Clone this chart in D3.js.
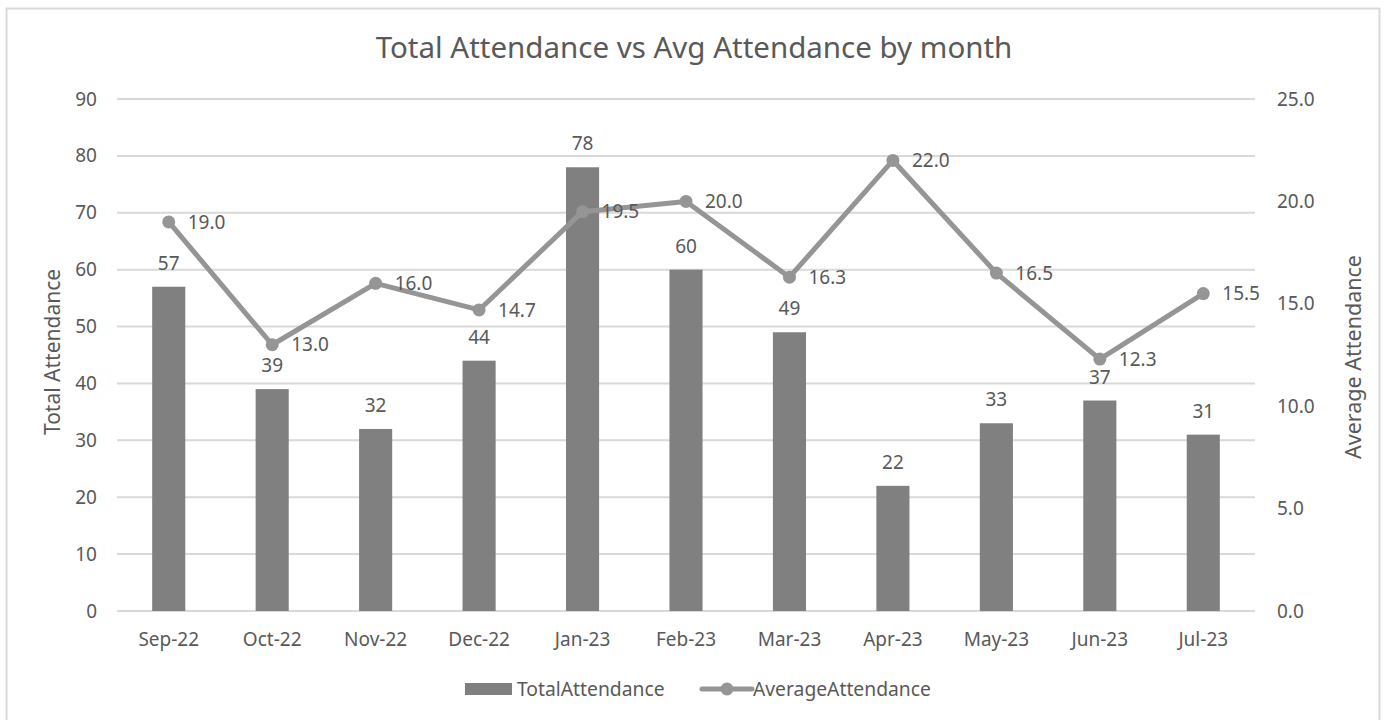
<!DOCTYPE html>
<html lang="en">
<head>
  <meta charset="UTF-8">
  <title>Total Attendance vs Avg Attendance by month</title>
  <script src="https://d3js.org/d3.v7.min.js"></script>
  <style>
    body {margin: 0; background: #fff;}
    text {font-family: "Noto Sans", "Open Sans", sans-serif; fill: #595959;}
    .grid line {stroke: #d9d9d9; stroke-width: 2;}
  </style>
</head>
<body>
<div id="chart"></div>
<script>
const months = ["Sep-22", "Oct-22", "Nov-22", "Dec-22", "Jan-23", "Feb-23", "Mar-23", "Apr-23", "May-23", "Jun-23", "Jul-23"];
const totalAttendance = [57, 39, 32, 44, 78, 60, 49, 22, 33, 37, 31];
const averageAttendance = [19.0, 13.0, 16.0, 14.7, 19.5, 20.0, 16.3, 22.0, 16.5, 12.3, 15.5];
const leftTicks = [0, 10, 20, 30, 40, 50, 60, 70, 80, 90];
const rightTicks = [0, 5, 10, 15, 20, 25];

const width = 1388, height = 720;
const plot = {left: 117, right: 1255, top: 99, bottom: 611};
const barColor = "#808080";
const lineColor = "#959595";

const svg = d3.select("#chart").append("svg")
  .attr("width", width)
  .attr("height", height);

// chart frame
svg.append("rect")
  .attr("x", 6.5).attr("y", 8.5)
  .attr("width", 1373).attr("height", 720)
  .attr("fill", "#fff")
  .attr("stroke", "#d9d9d9")
  .attr("stroke-width", 2);

const x = d3.scaleBand()
  .domain(months)
  .range([plot.left, plot.right])
  .paddingInner(0.68)
  .paddingOuter(0.34);

const yLeft = d3.scaleLinear().domain([0, 90]).range([plot.bottom, plot.top]);
const yRight = d3.scaleLinear().domain([0, 25]).range([plot.bottom, plot.top]);
const cx = d => x(d) + x.bandwidth() / 2;

// gridlines
svg.append("g").attr("class", "grid")
  .selectAll("line")
  .data(leftTicks)
  .join("line")
  .attr("x1", plot.left).attr("x2", plot.right)
  .attr("y1", d => yLeft(d)).attr("y2", d => yLeft(d));

// left axis
const leftAxis = svg.append("g")
  .attr("transform", `translate(${plot.left},0)`)
  .call(d3.axisLeft(yLeft).tickValues(leftTicks).tickSize(0).tickPadding(20));
leftAxis.select(".domain").remove();
leftAxis.selectAll("text").style("font-size", "19px").attr("fill", "#595959");

// right axis
const rightAxis = svg.append("g")
  .attr("transform", `translate(${plot.right},0)`)
  .call(d3.axisRight(yRight).tickValues(rightTicks).tickFormat(d3.format(".1f")).tickSize(0).tickPadding(22));
rightAxis.select(".domain").remove();
rightAxis.selectAll("text").style("font-size", "19px").attr("fill", "#595959");

// bottom axis
const bottomAxis = svg.append("g")
  .attr("transform", `translate(0,${plot.bottom})`)
  .call(d3.axisBottom(x).tickSize(0).tickPadding(22));
bottomAxis.select(".domain").remove();
bottomAxis.selectAll("text").style("font-size", "19px").attr("fill", "#595959");

// bars
svg.append("g")
  .selectAll("rect")
  .data(months)
  .join("rect")
  .attr("x", d => x(d))
  .attr("y", (d, i) => yLeft(totalAttendance[i]))
  .attr("width", x.bandwidth())
  .attr("height", (d, i) => yLeft(0) - yLeft(totalAttendance[i]))
  .attr("fill", barColor);

// bar labels
svg.append("g")
  .selectAll("text")
  .data(months)
  .join("text")
  .attr("x", d => cx(d))
  .attr("y", (d, i) => yLeft(totalAttendance[i]) - 17)
  .attr("text-anchor", "middle")
  .style("font-size", "19px")
  .text((d, i) => totalAttendance[i]);

// line
const line = d3.line()
  .x((d, i) => cx(months[i]))
  .y(d => yRight(d));

svg.append("path")
  .datum(averageAttendance)
  .attr("d", line)
  .attr("fill", "none")
  .attr("stroke", lineColor)
  .attr("stroke-width", 5)
  .attr("stroke-linejoin", "round")
  .attr("stroke-linecap", "round");

svg.append("g")
  .selectAll("circle")
  .data(averageAttendance)
  .join("circle")
  .attr("cx", (d, i) => cx(months[i]))
  .attr("cy", d => yRight(d))
  .attr("r", 6.5)
  .attr("fill", lineColor);

// line labels
svg.append("g")
  .selectAll("text")
  .data(averageAttendance)
  .join("text")
  .attr("x", (d, i) => cx(months[i]) + 19)
  .attr("y", d => yRight(d))
  .attr("dy", "0.35em")
  .style("font-size", "19px")
  .text(d => d3.format(".1f")(d));

// title
svg.append("text")
  .attr("x", 694).attr("y", 58)
  .attr("text-anchor", "middle")
  .style("font-size", "29.5px")
  .text("Total Attendance vs Avg Attendance by month");

// axis titles
svg.append("text")
  .attr("transform", "translate(60,352) rotate(-90)")
  .attr("text-anchor", "middle")
  .style("font-size", "21px")
  .text("Total Attendance");

svg.append("text")
  .attr("transform", "translate(1361,357) rotate(-90)")
  .attr("text-anchor", "middle")
  .style("font-size", "21.5px")
  .text("Average Attendance");

// legend
const legend = svg.append("g").attr("transform", "translate(0,689)");
legend.append("rect")
  .attr("x", 465).attr("y", -6)
  .attr("width", 47).attr("height", 12)
  .attr("fill", barColor);
legend.append("text")
  .attr("x", 517).attr("y", 0).attr("dy", "0.35em")
  .style("font-size", "19.3px")
  .text("TotalAttendance");
legend.append("line")
  .attr("x1", 702).attr("x2", 752)
  .attr("y1", 0).attr("y2", 0)
  .attr("stroke", lineColor)
  .attr("stroke-width", 5)
  .attr("stroke-linecap", "round");
legend.append("circle")
  .attr("cx", 727).attr("cy", 0).attr("r", 6.5)
  .attr("fill", lineColor);
legend.append("text")
  .attr("x", 753).attr("y", 0).attr("dy", "0.35em")
  .style("font-size", "19.3px")
  .text("AverageAttendance");
</script>
</body>
</html>
